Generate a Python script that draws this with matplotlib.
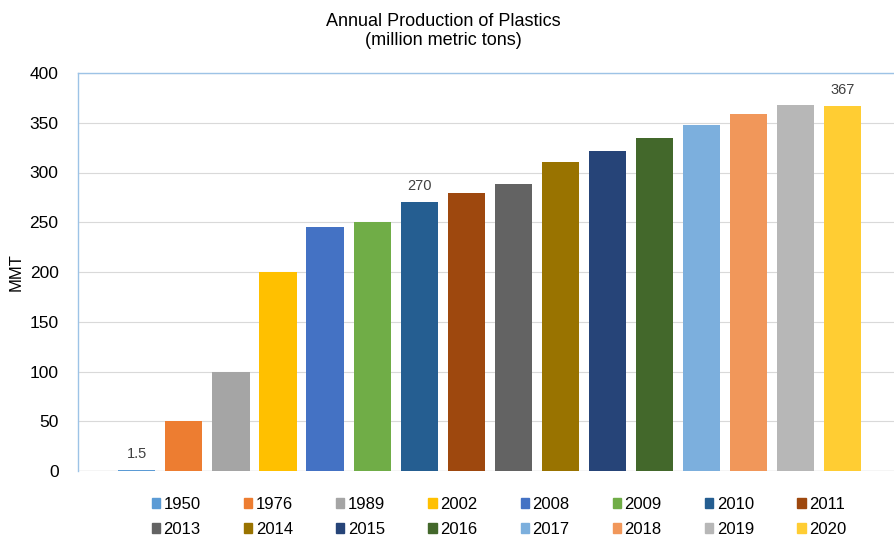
import numpy as np
import matplotlib.pyplot as plt

plt.rcParams['font.family'] = ['Liberation Sans', 'DejaVu Sans']

years = ['1950', '1976', '1989', '2002', '2008', '2009', '2010', '2011',
         '2013', '2014', '2015', '2016', '2017', '2018', '2019', '2020']
mmt = [1.5, 50, 100, 200, 245, 250, 270, 279,
       288, 311, 322, 335, 348, 359, 368, 367]
colors = ['#5B9BD5', '#ED7D31', '#A5A5A5', '#FFC000', '#4472C4', '#70AD47',
          '#255E91', '#9E480E', '#636363', '#997300', '#264478', '#43682B',
          '#7CAFDD', '#F1975A', '#B7B7B7', '#FFCD33']
labeled = ['1950', '2010', '2020']

fig = plt.figure(figsize=(8.95, 5.36), dpi=100)
ax = fig.add_axes([78 / 895, 1 - 471 / 536, 1 - 78 / 895, 398 / 536])

x = np.arange(len(years))
bars = ax.bar(x, mmt, width=0.79, color=colors, label=years, zorder=3)

for b, yr, v in zip(bars, years, mmt):
    if yr in labeled:
        txt = '{:g}'.format(v)
        ax.text(b.get_x() + b.get_width() / 2, v + 9, txt, ha='center',
                va='bottom', fontsize=10.5, color='#404040')

ax.set_xlim(-1.25, 16.11)
ax.set_ylim(0, 400)
ax.set_yticks(range(0, 401, 50))
ax.set_xticks([])
ax.tick_params(axis='y', length=0, labelsize=12.5, pad=14)
ax.yaxis.grid(True, color='#D9D9D9', linewidth=0.8, zorder=0)
for side in ['right', 'bottom']:
    ax.spines[side].set_visible(False)
for side in ['left', 'top']:
    ax.spines[side].set_color('#9DC3E6')
    ax.spines[side].set_linewidth(1.0)
ax.axhline(0, color='#D9D9D9', linewidth=1, zorder=2)

ax.set_ylabel('MMT', fontsize=12, labelpad=4)
fig.text(443 / 895, 1 - 31 / 536, 'Annual Production of Plastics\n(million metric tons)',
         ha='center', va='center', fontsize=13, linespacing=1.2)

# legend fills column-first, so interleave to get two rows of years in order
handles = [plt.Rectangle((0, 0), 1, 1, color=c) for c in colors]
order = [i + r * 8 for i in range(8) for r in range(2)]
fig.legend([handles[i] for i in order], [years[i] for i in order], ncol=8,
           loc='center', bbox_to_anchor=(499 / 895, 1 - 517 / 536),
           frameon=False, fontsize=12, handlelength=0.5, handleheight=0.5,
           handletextpad=0.2, columnspacing=2.6, labelspacing=0.6)

fig.savefig('out.png', dpi=100)
